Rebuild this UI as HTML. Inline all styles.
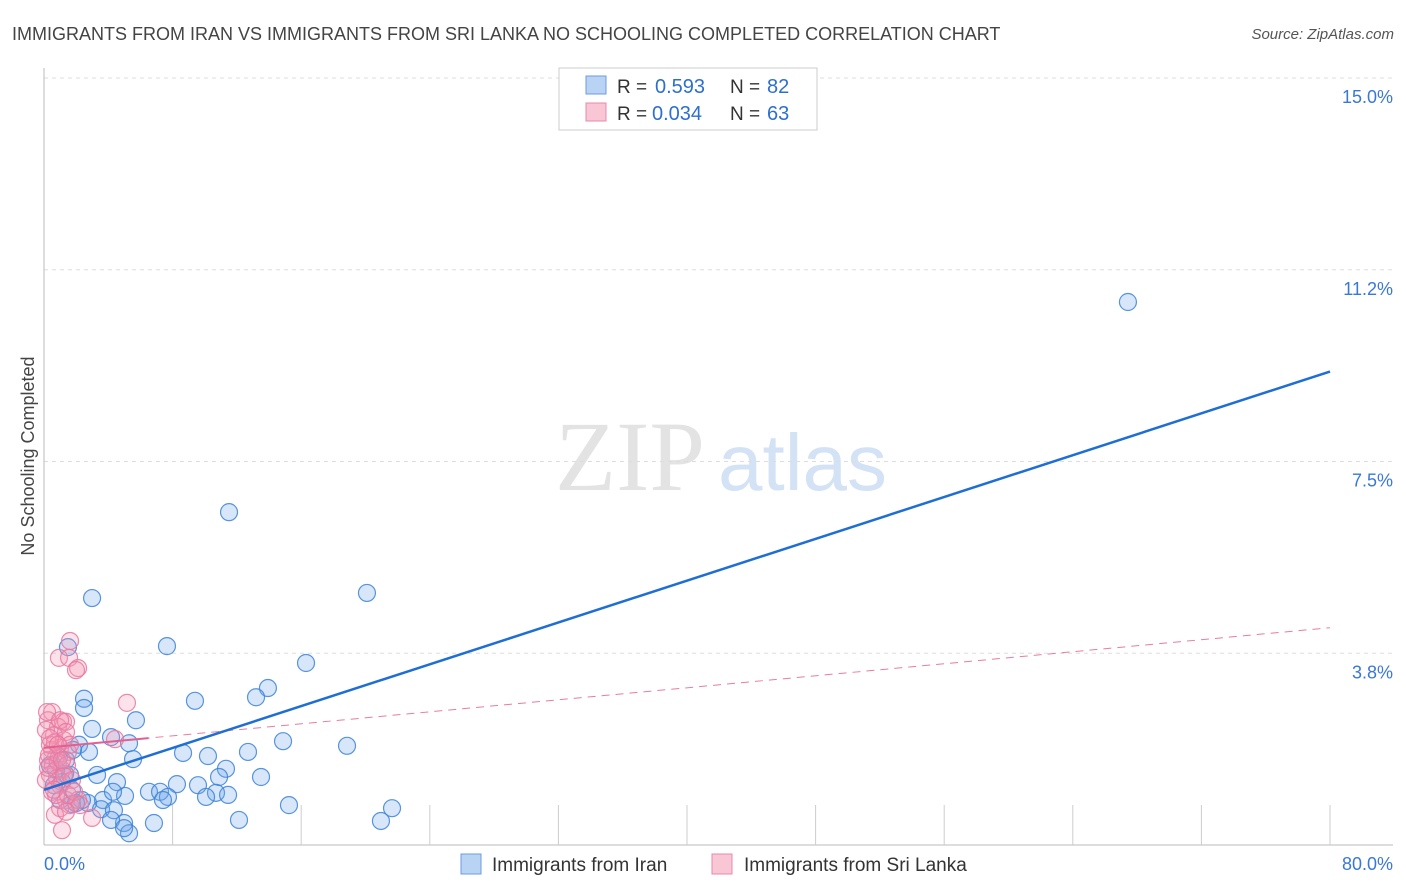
<!DOCTYPE html>
<html><head><meta charset="utf-8">
<style>
body{margin:0;background:#fff;font-family:"Liberation Sans",sans-serif;}
#wrap{position:relative;width:1406px;height:892px;overflow:hidden}
</style></head>
<body>
<div id="wrap">
<svg id="svg" width="1406" height="892" xmlns="http://www.w3.org/2000/svg"></svg>
</div>
<script>
const xTickLabels=["0.0%","80.0%"];
const yTicks=[3.75,7.5,11.25,15];
const yTickLabels=["3.8%","7.5%","11.2%","15.0%"];
// Iran (blue) points — pixel estimates converted to data units
const iranPx=[[1128,302],[229,512],[92,598],[367,593],[68,647],[167,646],[306,663],[268,688],[84,699],[195,701],[256,697],[84,708],[136,720],[92,729],[111,737],[283,741],[347,746],[79,745],[129,743],[89,752],[183,753],[208,756],[248,752],[133,759],[226,769],[261,777],[219,777],[59,757],[65,774],[97,775],[117,782],[177,784],[198,785],[149,792],[160,792],[168,797],[125,796],[103,800],[113,792],[88,803],[216,793],[206,797],[289,805],[392,808],[72,790],[62,782],[101,809],[114,810],[124,823],[111,820],[154,823],[239,820],[381,821],[129,833],[124,828],[72,804],[70,775],[56,770],[54,785],[60,800],[82,800],[76,803],[66,760],[73,750],[50,765],[163,800],[228,795]];
const lankaPx=[[70,641],[59,658],[69,658],[78,668],[76,670],[127,703],[52,712],[48,720],[63,722],[58,727],[54,735],[66,722],[115,739],[60,748],[52,750],[68,752],[56,757],[48,760],[53,765],[62,770],[50,775],[57,778],[46,780],[60,785],[52,792],[66,800],[70,805],[60,808],[55,815],[62,830],[92,818],[78,800],[50,745],[46,730],[64,740],[55,742],[58,762],[49,755],[67,765],[72,780],[56,795],[47,712],[60,720],[66,732],[50,738],[70,745],[48,768],[64,776],[54,790],[68,795],[58,745],[62,760],[74,792],[80,805],[66,812]];
const iranX=iranPx.map(p=>+((p[0]-44)/16.075).toFixed(2));
const iranY=iranPx.map(p=>+((845-p[1])/51.13).toFixed(2));
const lankaX=lankaPx.map(p=>+((p[0]-44)/16.075).toFixed(2));
const lankaY=lankaPx.map(p=>+((845-p[1])/51.13).toFixed(2));
const iranTrend=[1.08,9.26];
const lankaTrend=[1.9,4.25];

const X0=44,X1=1330,Y0=845,PX=16.075,PY=51.13;
const sx=v=>X0+v*PX, sy=v=>Y0-v*PY;
const svg=document.getElementById('svg');
const NS='http://www.w3.org/2000/svg';
function add(tag,attrs,name,parent){const e=document.createElementNS(NS,tag);for(const k in attrs)e.setAttribute(k,attrs[k]);


(parent||svg).appendChild(e);return e;}
function txt(x,y,s,attrs,name){const t=add('text',Object.assign({x:x,y:y},attrs),name);t.textContent=s;return t;}

txt(12,40,"IMMIGRANTS FROM IRAN VS IMMIGRANTS FROM SRI LANKA NO SCHOOLING COMPLETED CORRELATION CHART",{'font-size':18,fill:'#444'},'chart-title');
txt(1394,39,"Source: ZipAtlas.com",{'font-size':15,fill:'#555','text-anchor':'end','font-style':'italic'},'source-label');
txt(555,490,"ZIP",{'font-size':100,fill:'#ddd','font-family':'Liberation Serif',opacity:0.8},'watermark-zip');
txt(718,490,"atlas",{'font-size':80,fill:'#c9dcf3',opacity:0.8},'watermark-atlas');
yTicks.forEach((v,i)=>{add('line',{x1:X0,x2:1393,y1:sy(v),y2:sy(v),stroke:'#ddd','stroke-dasharray':'4,4'},'gridline-'+i);
txt(1393,sy(v)+25,yTickLabels[i],{'font-size':18,fill:'#3a78d4','text-anchor':'end'},'y-tick-label');});
add('line',{x1:X0,x2:X0,y1:68,y2:Y0,stroke:'#bbb'},'y-axis');
add('line',{x1:X0,x2:1393,y1:Y0,y2:Y0,stroke:'#bbb'},'x-axis');
for(let i=1;i<=10;i++){add('line',{x1:sx(i*8),x2:sx(i*8),y1:Y0,y2:Y0-40,stroke:'#ccc'},'x-tick');}
txt(44,870,xTickLabels[0],{'font-size':18,fill:'#3a78d4'},'x-tick-label-min');
txt(1393,870,xTickLabels[1],{'font-size':18,fill:'#3a78d4','text-anchor':'end'},'x-tick-label-max');
txt(34,456,"No Schooling Completed",{'font-size':18,fill:'#444','text-anchor':'middle',transform:'rotate(-90 34 456)'},'y-axis-title');
iranX.forEach((x,i)=>add('circle',{cx:sx(x),cy:sy(iranY[i]),r:8.5,fill:'rgba(110,165,235,0.28)',stroke:'rgba(60,130,215,0.85)','stroke-width':1.2},'point-iran'));
lankaX.forEach((x,i)=>add('circle',{cx:sx(x),cy:sy(lankaY[i]),r:8.5,fill:'rgba(244,150,180,0.28)',stroke:'rgba(232,120,160,0.85)','stroke-width':1.2},'point-sri-lanka'));
add('line',{x1:sx(0),y1:sy(lankaTrend[0]),x2:sx(80),y2:sy(lankaTrend[1]),stroke:'#e87ca0','stroke-width':1,'stroke-dasharray':'8,6'},'trend-sri-lanka');
add('line',{x1:sx(0),y1:sy(lankaTrend[0]),x2:sx(6.5),y2:sy(lankaTrend[0]+(lankaTrend[1]-lankaTrend[0])*6.5/80),stroke:'#e06090','stroke-width':2},'trend-sri-lanka-solid');
add('line',{x1:sx(0),y1:sy(iranTrend[0]),x2:sx(80),y2:sy(iranTrend[1]),stroke:'#1f6ed4','stroke-width':2.5},'trend-iran');
add('rect',{x:559,y:68,width:258,height:62,fill:'#fff',stroke:'#ccc'},'stats-legend');
add('rect',{x:586,y:76,width:20,height:18,fill:'#b9d3f5',stroke:'#6b9ee0'},'legend-swatch-iran');
add('rect',{x:586,y:103,width:20,height:18,fill:'#f9c6d6',stroke:'#e88aac'},'legend-swatch-lanka');
txt(617,93,"R = ",{'font-size':19,fill:'#333'},'legend-r-label');
txt(655,93,"0.593",{'font-size':20,fill:'#2d6fd1'},'legend-r-iran');
txt(730,93,"N = ",{'font-size':19,fill:'#333'},'legend-n-label');
txt(767,93,"82",{'font-size':20,fill:'#2d6fd1'},'legend-n-iran');
txt(617,120,"R = ",{'font-size':19,fill:'#333'},'legend-r-label');
txt(652,120,"0.034",{'font-size':20,fill:'#2d6fd1'},'legend-r-lanka');
txt(730,120,"N = ",{'font-size':19,fill:'#333'},'legend-n-label');
txt(767,120,"63",{'font-size':20,fill:'#2d6fd1'},'legend-n-lanka');
add('rect',{x:461,y:854,width:20,height:20,fill:'#b9d3f5',stroke:'#6b9ee0'},'legend-swatch-iran-bottom');
txt(492,871,"Immigrants from Iran",{'font-size':19,fill:'#333'},'legend-entry-iran');
add('rect',{x:712,y:854,width:20,height:20,fill:'#f9c6d6',stroke:'#e88aac'},'legend-swatch-lanka-bottom');
txt(744,871,"Immigrants from Sri Lanka",{'font-size':19,fill:'#333'},'legend-entry-lanka');
</script>
</body></html>
